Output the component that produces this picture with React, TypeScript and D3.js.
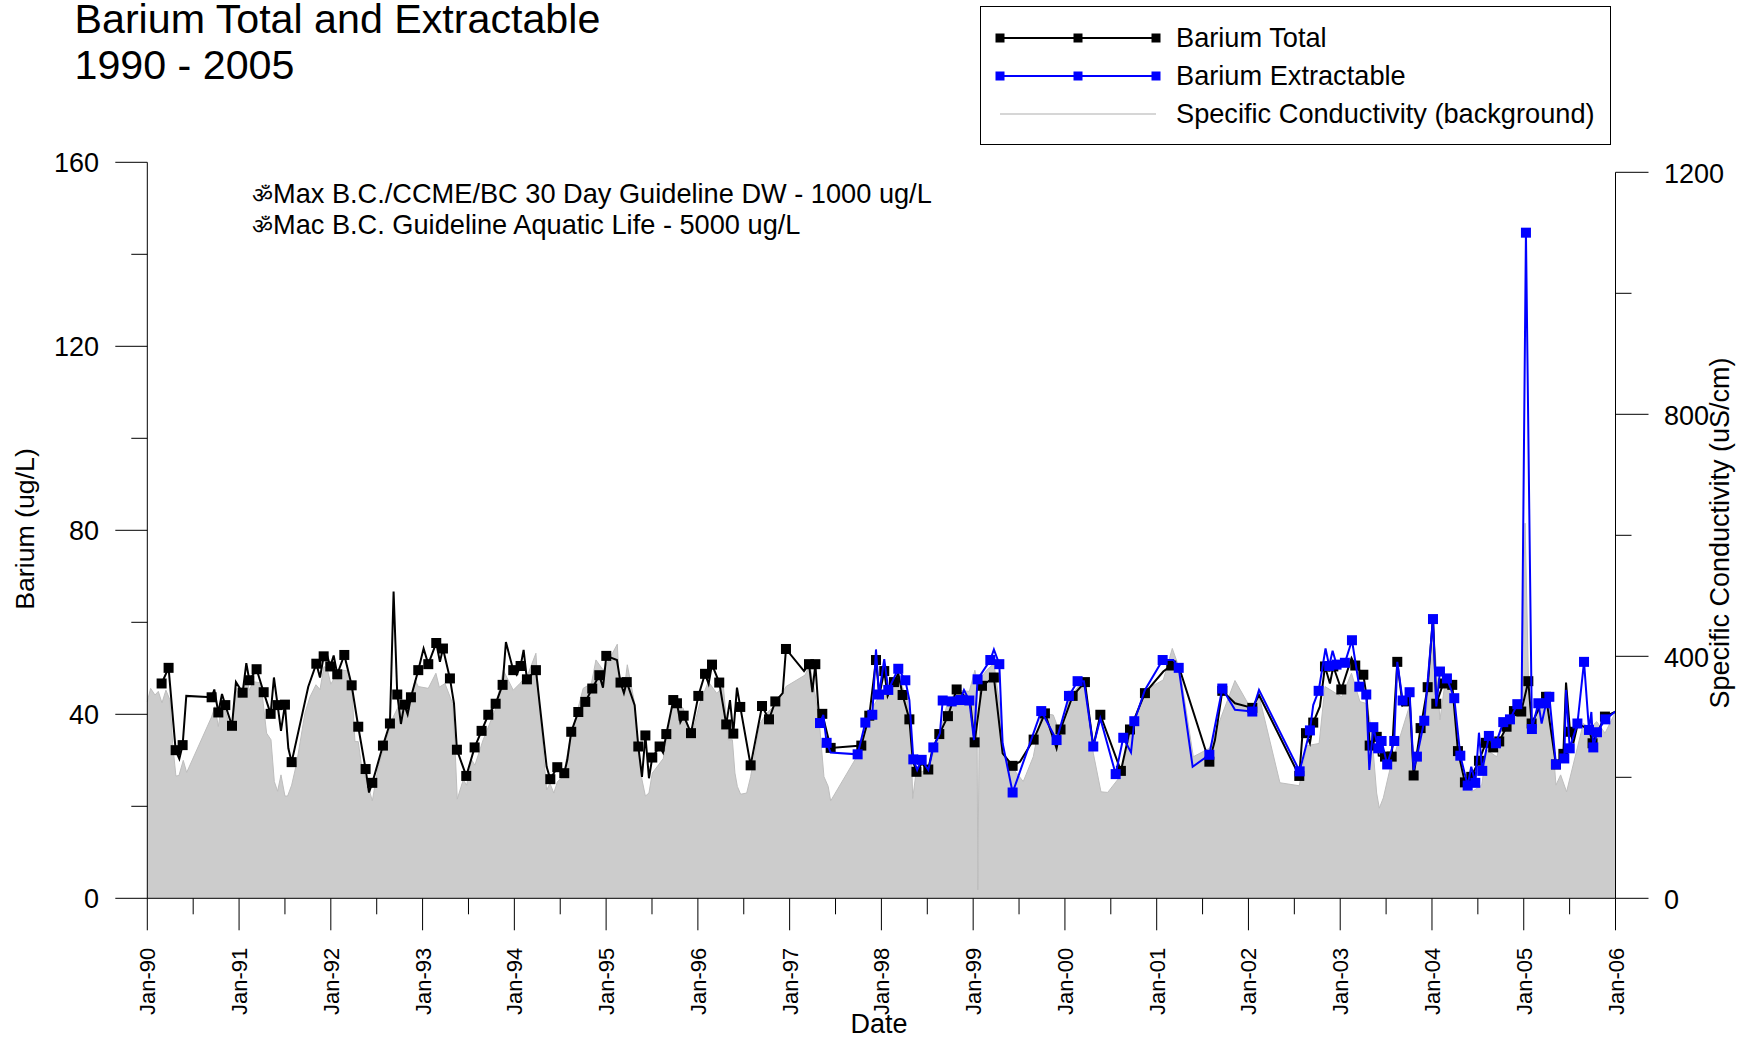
import React from "react";
import * as d3 from "d3";

// [years since Jan-1990, ug/L, 1 = sampled with marker / 0 = line vertex only]
const bariumTotal: [number, number, number][] = [
[.156,46.7,1],[.232,50.1,1],[.309,32.2,1],[.349,30.3,0],[.385,33.3,1],[.425,44,0],[.701,43.7,1],[.73,45.4,0],[.774,40.4,1],[.814,44.4,0],[.85,42,1],[.923,37.5,1],[.966,47,0],[1.039,44.7,1],[1.079,51.1,0],[1.112,47.4,1],[1.191,49.8,1],[1.268,44.8,1],[1.344,40.1,1],[1.38,48,0],[1.42,42,1],[1.457,36.4,0],[1.5,42.1,1],[1.537,32.6,0],[1.573,29.6,1],[1.754,46,0],[1.842,51,1],[1.882,48,0],[1.922,52.6,1],[1.958,52.9,0],[1.994,50.4,1],[2.031,52.8,0],[2.07,48.7,1],[2.147,52.9,1],[2.227,46.3,1],[2.299,37.3,1],[2.379,28.1,1],[2.416,23,0],[2.452,25.1,1],[2.568,33.2,1],[2.644,38,1],[2.684,66.7,0],[2.724,44.3,1],[2.764,37.9,0],[2.801,42.1,1],[2.837,40,0],[2.873,43.7,1],[2.953,49.6,1],[3.011,54.3,0],[3.062,50.9,1],[3.149,55.5,1],[3.189,51.4,0],[3.222,54.3,1],[3.298,47.8,1],[3.342,42.4,0],[3.374,32.3,1],[3.476,26.6,1],[3.567,32.8,1],[3.643,36.4,1],[3.716,39.9,1],[3.796,42.3,1],[3.872,46.4,1],[3.908,55.7,0],[3.988,49.6,1],[4.025,48.6,0],[4.068,50.5,1],[4.101,54,0],[4.137,47.6,1],[4.235,49.6,1],[4.352,28.6,0],[4.392,25.9,1],[4.468,28.5,1],[4.544,27.2,1],[4.577,30.1,0],[4.62,36.2,1],[4.697,40.5,1],[4.773,42.7,1],[4.849,45.6,1],[4.926,48.5,1],[4.966,45.8,0],[5.002,52.7,1],[5.118,51.8,0],[5.157,46.9,1],[5.194,44.6,0],[5.225,47,1],[5.311,42,0],[5.351,33,1],[5.391,26.4,0],[5.428,35.4,1],[5.467,26.1,0],[5.503,30.6,1],[5.583,33,1],[5.62,31.7,0],[5.656,35.7,1],[5.732,43.1,1],[5.772,42.4,1],[5.809,38.3,0],[5.845,39.7,1],[5.925,35.9,1],[6.005,44,1],[6.078,48.8,1],[6.117,46.6,0],[6.154,50.8,1],[6.233,46.9,1],[6.309,37.8,1],[6.35,43.1,0],[6.386,35.8,1],[6.426,45.8,0],[6.462,41.6,1],[6.575,28.9,1],[6.699,41.8,1],[6.775,38.9,1],[6.844,42.8,1],[6.924,44.6,0],[6.96,54.2,1],[7.157,49.4,0],[7.211,50.9,1],[7.248,44.8,0],[7.28,50.9,1],[7.32,39.5,0],[7.356,40.1,1],[7.447,32.7,1],[7.781,33.2,1],[7.868,39.7,1],[7.941,51.8,1],[7.977,44.1,0],[8.031,49.4,1],[8.068,44,0],[8.137,47,1],[8.184,48.9,0],[8.231,44.2,1],[8.305,38.9,1],[8.341,30.1,0],[8.382,27.5,1],[8.44,29.3,0],[8.511,28,1],[8.558,32.6,0],[8.631,35.7,1],[8.725,39.6,1],[8.82,45.4,1],[8.966,43,0],[9.016,33.9,1],[9.096,46.2,1],[9.226,48,1],[9.321,31.5,0],[9.43,28.8,1],[9.51,29.7,0],[9.659,34.5,1],[9.782,40.2,1],[9.909,32.6,0],[9.952,36.7,1],[10.084,44,1],[10.218,47,1],[10.309,33,0],[10.386,39.9,1],[10.61,27.7,1],[10.709,36.7,1],[10.872,44.6,1],[11.072,49.3,0],[11.159,50.6,1],[11.254,49.6,0],[11.537,31.9,0],[11.574,29.7,1],[11.635,34.4,0],[11.715,45.1,1],[11.853,42.4,0],[12.042,41.4,1],[12.115,44.2,0],[12.554,26.6,1],[12.59,36,0],[12.627,35.9,1],[12.67,33.7,0],[12.706,38.2,1],[12.779,41.7,0],[12.834,50.4,1],[12.888,46.7,0],[12.925,50.4,1],[13.012,45.4,1],[13.123,52.2,0],[13.164,50.6,1],[13.252,48.6,1],[13.288,43.8,0],[13.321,33.2,1],[13.398,35.1,1],[13.42,31,0],[13.488,30.8,1],[13.561,30.8,1],[13.622,51.4,1],[13.68,42,0],[13.717,42.8,1],[13.756,43.8,0],[13.8,26.7,1],[13.876,37,1],[13.953,45.9,1],[14.011,61.2,0],[14.047,42.3,1],[14.123,46.7,1],[14.165,48.2,0],[14.221,46.4,1],[14.283,32,1],[14.359,25.2,1],[14.428,26.4,1],[14.512,29.9,1],[14.587,33.8,1],[14.667,32.8,1],[14.733,34.1,1],[14.813,37.3,1],[14.893,40.7,1],[14.973,40.6,1],[15.05,47.2,1],[15.086,38,1],[15.16,41,0],[15.243,43.8,1],[15.351,29.1,1],[15.432,31.4,1],[15.461,46.9,0],[15.505,36.2,1],[15.54,33.7,0],[15.59,38,0],[15.715,36.6,0],[15.75,33.7,1],[15.885,39.5,1],[16,40.6,0]];

const bariumExtractable: [number, number, number][] = [
[7.331,38.1,1],[7.367,39.9,0],[7.403,33.8,1],[7.447,31.7,0],[7.741,31.3,1],[7.825,38.2,1],[7.901,39.9,1],[7.941,54.1,0],[7.974,44.3,1],[8.031,52,0],[8.075,45.3,1],[8.184,49.9,1],[8.261,47.4,1],[8.305,43.1,0],[8.348,30.2,1],[8.39,27.9,0],[8.439,30.1,1],[8.511,27.9,0],[8.566,32.8,1],[8.638,35.9,0],[8.668,43,1],[8.766,42.8,1],[8.86,43.1,1],[8.9,45.3,0],[8.958,43,1],[9.009,34.4,0],[9.048,47.6,1],[9.187,51.8,1],[9.226,54.1,0],[9.285,50.9,1],[9.321,33.7,0],[9.43,23,1],[9.742,40.7,1],[9.909,34.4,1],[10.044,44,1],[10.138,47.2,1],[10.207,47.2,0],[10.309,33,1],[10.386,39.1,0],[10.553,27,1],[10.636,34.9,1],[10.72,31.7,0],[10.756,38.5,1],[10.872,45.3,0],[11.065,51.8,1],[11.181,51.8,0],[11.24,50.1,1],[11.392,28.6,0],[11.574,31.2,1],[11.715,45.6,1],[11.853,41,0],[12.042,40.6,1],[12.115,45.3,0],[12.558,27.6,1],[12.67,36.5,1],[12.706,42,0],[12.765,45.1,1],[12.84,54.3,0],[12.88,50.5,1],[12.917,53.8,0],[12.96,50.8,1],[13.051,51.2,1],[13.128,56.1,1],[13.208,46,1],[13.284,44.3,1],[13.317,27.9,0],[13.361,37.2,1],[13.414,32.6,1],[13.451,34.2,1],[13.512,29.1,1],[13.589,34.2,1],[13.622,51.4,0],[13.68,43,1],[13.756,44.8,1],[13.8,27.9,0],[13.836,30.8,1],[13.916,38.6,1],[14.011,60.7,1],[14.047,41.7,0],[14.087,49.3,1],[14.163,47.8,1],[14.243,43.5,1],[14.309,31,1],[14.389,24.5,1],[14.428,28.6,0],[14.472,25.1,1],[14.512,36,0],[14.548,27.7,1],[14.62,35.3,1],[14.697,33.7,1],[14.777,38.3,1],[14.85,38.9,1],[14.93,42.2,1],[14.977,43.1,0],[15.024,144.7,1],[15.089,36.8,1],[15.159,42.4,1],[15.195,38,0],[15.243,42.4,1],[15.279,43.8,1],[15.351,29.1,1],[15.442,30.4,1],[15.461,45.3,0],[15.501,32.6,1],[15.585,38,1],[15.657,51.4,1],[15.711,36.6,1],[15.737,40.5,0],[15.758,32.8,1],[15.798,36.1,1],[15.889,38.9,1],[16,40.6,0]];

// [years since Jan-1990, uS/cm]
const conductivity: [number, number][] = [
[0,325],[.036,347],[.084,336],[.12,342],[.16,323],[.203,344],[.247,328],[.276,256],[.312,202],[.345,203],[.392,228],[.429,208],[.701,300],[.737,317],[.774,284],[.814,322],[.85,310],[.89,289],[.923,284],[.966,347],[1.01,331],[1.04,334],[1.075,369],[1.112,344],[1.155,358],[1.235,356],[1.264,322],[1.3,273],[1.348,262],[1.384,193],[1.42,177],[1.457,204],[1.5,169],[1.529,169],[1.573,187],[1.627,223],[1.718,306],[1.773,333],[1.838,353],[1.882,345],[1.925,383],[1.96,380],[2,354],[2.038,364],[2.08,361],[2.118,377],[2.19,376],[2.227,353],[2.263,259],[2.299,259],[2.336,218],[2.408,185],[2.452,161],[2.517,218],[2.572,245],[2.681,300],[2.771,328],[2.84,303],[2.917,361],[2.953,350],[3.062,347],[3.145,372],[3.182,349],[3.244,355],[3.327,322],[3.353,251],[3.378,164],[3.443,196],[3.48,187],[3.534,229],[3.57,220],[3.66,262],[3.79,311],[3.879,377],[3.988,344],[4.06,355],[4.152,372],[4.235,405],[4.27,322],[4.352,179],[4.388,190],[4.43,174],[4.47,193],[4.533,201],[4.606,262],[4.75,347],[4.84,355],[4.889,394],[4.969,377],[5.122,420],[5.143,355],[5.195,342],[5.231,386],[5.311,322],[5.351,240],[5.391,196],[5.428,169],[5.467,174],[5.503,207],[5.623,231],[5.732,328],[5.84,314],[5.93,267],[6.02,322],[6.114,358],[6.205,339],[6.278,350],[6.33,262],[6.376,262],[6.404,207],[6.43,185],[6.466,172],[6.532,174],[6.575,201],[6.677,289],[6.75,306],[6.859,322],[6.96,350],[7.168,369],[7.22,386],[7.276,339],[7.331,278],[7.374,201],[7.42,185],[7.447,161],[7.712,229],[7.839,289],[7.91,317],[7.984,336],[8.056,339],[8.184,366],[8.275,333],[8.319,289],[8.341,165],[8.377,207],[8.511,212],[8.638,273],[8.71,317],[8.82,344],[8.958,342],[9.019,377],[9.04,361],[9.051,14],[9.07,361],[9.146,377],[9.226,388],[9.291,317],[9.328,234],[9.4,223],[9.473,207],[9.546,193],[9.655,234],[9.746,306],[9.873,303],[9.946,273],[10.055,333],[10.146,350],[10.218,361],[10.309,240],[10.393,176],[10.466,175],[10.6,201],[10.673,245],[10.745,289],[10.872,344],[11.072,361],[11.17,413],[11.254,377],[11.399,234],[11.574,248],[11.853,360],[12.04,310],[12.115,335],[12.343,191],[12.554,186],[12.634,252],[12.77,256],[12.834,350],[13.016,333],[13.123,372],[13.215,325],[13.288,322],[13.34,280],[13.397,174],[13.426,149],[13.47,166],[13.54,212],[13.753,317],[13.815,212],[13.942,311],[14.007,468],[14.087,295],[14.141,355],[14.232,342],[14.287,245],[14.342,201],[14.433,176],[14.542,187],[14.597,245],[14.706,234],[14.815,289],[14.942,317],[14.975,330],[15.015,620],[15.055,335],[15.1,289],[15.16,317],[15.285,322],[15.351,187],[15.402,204],[15.467,176],[15.649,289],[15.722,281],[15.795,292],[15.886,273],[16,308]];

const leftMajorTicks = [0, 40, 80, 120, 160];
const leftMinorTicks = [20, 60, 100, 140];
const rightMajorTicks = [0, 400, 800, 1200];
const rightMinorTicks = [200, 600, 1000];
const yearTicks = d3.range(0, 17);
const yearLabels = ["Jan-90","Jan-91","Jan-92","Jan-93","Jan-94","Jan-95","Jan-96","Jan-97","Jan-98","Jan-99","Jan-00","Jan-01","Jan-02","Jan-03","Jan-04","Jan-05","Jan-06"];
const titleLines = ["Barium Total and Extractable", "1990 - 2005"];
const notes = ["Max B.C./CCME/BC 30 Day Guideline DW - 1000 ug/L", "Mac B.C. Guideline Aquatic Life - 5000 ug/L"];

const FONT = "'Liberation Sans', Arial, sans-serif";
const x = d3.scaleLinear().domain([0, 16]).range([147.3, 1615.5]);
const y = d3.scaleLinear().domain([0, 160]).range([898.3, 162.3]);
const yR = d3.scaleLinear().domain([0, 1200]).range([898.3, 172.3]);

const BLUE = "#0000ff";
const MS = 10;

function Series({ data, color }: { data: [number, number, number][]; color: string }) {
  const line = d3.line<[number, number, number]>().x(d => x(d[0])).y(d => y(d[1]));
  return (
    <g>
      <path d={line(data) ?? ""} fill="none" stroke={color} strokeWidth={2} strokeLinejoin="miter" />
      {data.filter(d => d[2]).map((d, i) => (
        <rect key={i} x={x(d[0]) - MS / 2} y={y(d[1]) - MS / 2} width={MS} height={MS} fill={color} />
      ))}
    </g>
  );
}

export default function App() {
  const area = d3.area<[number, number]>().x(d => x(d[0])).y0(yR(0)).y1(d => yR(d[1]));
  const condLine = d3.line<[number, number]>().x(d => x(d[0])).y(d => yR(d[1]));
  const leg = [
    { label: "Barium Total", color: "#000", y: 38, marker: true },
    { label: "Barium Extractable", color: BLUE, y: 76, marker: true },
    { label: "Specific Conductivity (background)", color: "#c8c8c8", y: 114, marker: false },
  ];
  return (
    <svg width={1747} height={1039} style={{ position: "absolute", left: 0, top: 0, background: "#fff" }} fontFamily={FONT} fill="#000">
      <path d={area(conductivity) ?? ""} fill="#cccccc" />
      <path d={condLine(conductivity) ?? ""} fill="none" stroke="#bdbdbd" strokeWidth={1} />
      <Series data={bariumTotal} color="#000" />
      <Series data={bariumExtractable} color={BLUE} />

      {/* left axis */}
      <line x1={x(0)} x2={x(0)} y1={y(160)} y2={y(0)} stroke="#000" />
      {leftMajorTicks.map(t => (
        <g key={t}>
          <line x1={x(0) - 32} x2={x(0)} y1={y(t)} y2={y(t)} stroke="#000" />
          <text x={99} y={y(t) + 9.5} textAnchor="end" fontSize={27}>{t}</text>
        </g>
      ))}
      {leftMinorTicks.map(t => <line key={t} x1={x(0) - 16} x2={x(0)} y1={y(t)} y2={y(t)} stroke="#000" />)}

      {/* right axis */}
      <line x1={x(16)} x2={x(16)} y1={yR(1200)} y2={yR(0)} stroke="#000" />
      {rightMajorTicks.map(t => (
        <g key={t}>
          <line x1={x(16)} x2={x(16) + 33} y1={yR(t)} y2={yR(t)} stroke="#000" />
          <text x={1664} y={yR(t) + 10.5} fontSize={27}>{t}</text>
        </g>
      ))}
      {rightMinorTicks.map(t => <line key={t} x1={x(16)} x2={x(16) + 16} y1={yR(t)} y2={yR(t)} stroke="#000" />)}

      {/* bottom axis */}
      <line x1={x(0)} x2={x(16)} y1={y(0)} y2={y(0)} stroke="#000" />
      {yearTicks.map(t => (
        <g key={t}>
          <line x1={x(t)} x2={x(t)} y1={y(0)} y2={y(0) + 32} stroke="#000" />
          <text transform={`translate(${x(t) + 8},1015) rotate(-90)`} fontSize={22}>{yearLabels[t]}</text>
        </g>
      ))}
      {yearTicks.slice(0, -1).map(t => <line key={t} x1={x(t + 0.5)} x2={x(t + 0.5)} y1={y(0)} y2={y(0) + 16} stroke="#000" />)}

      {/* titles */}
      {titleLines.map((t, i) => <text key={t} x={74.5} y={33 + i * 45.5} fontSize={41.2}>{t}</text>)}
      {notes.map((t, i) => (
        <g key={t}>
          <text x={252} y={202.5 + i * 31.5} fontSize={23} fontFamily="'Noto Sans', 'Noto Sans CJK SC', sans-serif">ॐ</text>
          <text x={273} y={202.5 + i * 31.5} fontSize={27.2}>{t}</text>
        </g>
      ))}
      <text transform="translate(34,529) rotate(-90)" textAnchor="middle" fontSize={26.7}>Barium (ug/L)</text>
      <text transform="translate(1729,533) rotate(-90)" textAnchor="middle" fontSize={27}>Specific Conductivity (uS/cm)</text>
      <text x={879} y={1033} textAnchor="middle" fontSize={27}>Date</text>

      {/* legend */}
      <rect x={980.5} y={6.5} width={630} height={138} fill="#fff" stroke="#000" />
      {leg.map(l => (
        <g key={l.label}>
          <line x1={1000} x2={1156} y1={l.y} y2={l.y} stroke={l.color} strokeWidth={l.marker ? 2 : 1.5} />
          {l.marker && [1000, 1078, 1156].map(mx => <rect key={mx} x={mx - 4.5} y={l.y - 4.5} width={9} height={9} fill={l.color} />)}
          <text x={1176} y={l.y + 9} fontSize={27.2}>{l.label}</text>
        </g>
      ))}
    </svg>
  );
}
